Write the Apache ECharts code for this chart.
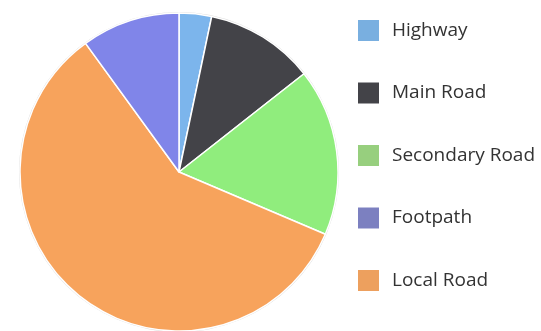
<!DOCTYPE html>
<html>
<head>
<meta charset="utf-8">
<script src="https://cdn.jsdelivr.net/npm/echarts@6/dist/echarts.min.js"></script>
<style>
  html, body { margin: 0; padding: 0; background: #fff; }
  #chart { width: 541px; height: 331px; }
</style>
</head>
<body>
<div id="chart"></div>
<script>
// Road type shares, in clockwise drawing order from 12 o'clock
const categories = ['Highway', 'Main Road', 'Secondary Road', 'Local Road', 'Footpath'];
const shares = [3.3, 11.1, 17.0, 58.6, 10.0];
const colors = ['#7cb5ec', '#434348', '#90ed7d', '#f7a35c', '#8085e9'];
// Legend lists the types in its own order, with slightly muted swatches
const legendOrder = ['Highway', 'Main Road', 'Secondary Road', 'Footpath', 'Local Road'];
const legendColors = ['#79afe0', '#434348', '#97cf7e', '#7c80c0', '#eda05e'];

const chart = echarts.init(document.getElementById('chart'), null, { renderer: 'canvas' });

const pieData = categories.map((name, i) => ({
  name,
  value: shares[i],
  itemStyle: { color: colors[i] }
}));

chart.setOption({
  animation: false,
  legend: {
    data: legendOrder.map((name, i) => ({ name, itemStyle: { color: legendColors[i] } })),
    orient: 'vertical',
    left: 351,
    top: 13,
    icon: 'rect',
    itemWidth: 23,
    itemHeight: 23,
    itemGap: 37.5,
    textStyle: {
      fontFamily: 'Open Sans',
      fontSize: 19,
      color: '#333',
      padding: [0, 0, 0, 7]
    }
  },
  series: [
    {
      // thin grey rim around the pie
      type: 'pie',
      silent: true,
      center: [179, 172],
      radius: 160,
      z: 1,
      label: { show: false },
      labelLine: { show: false },
      itemStyle: { color: '#d9d9d9' },
      data: [{ name: '', value: 1 }],
      legendHoverLink: false
    },
    {
      type: 'pie',
      center: [179, 172],
      radius: 159,
      startAngle: 90,
      clockwise: true,
      z: 2,
      label: { show: false },
      labelLine: { show: false },
      itemStyle: { borderColor: '#ffffff', borderWidth: 1.5 },
      data: pieData
    }
  ]
});
</script>
</body>
</html>
